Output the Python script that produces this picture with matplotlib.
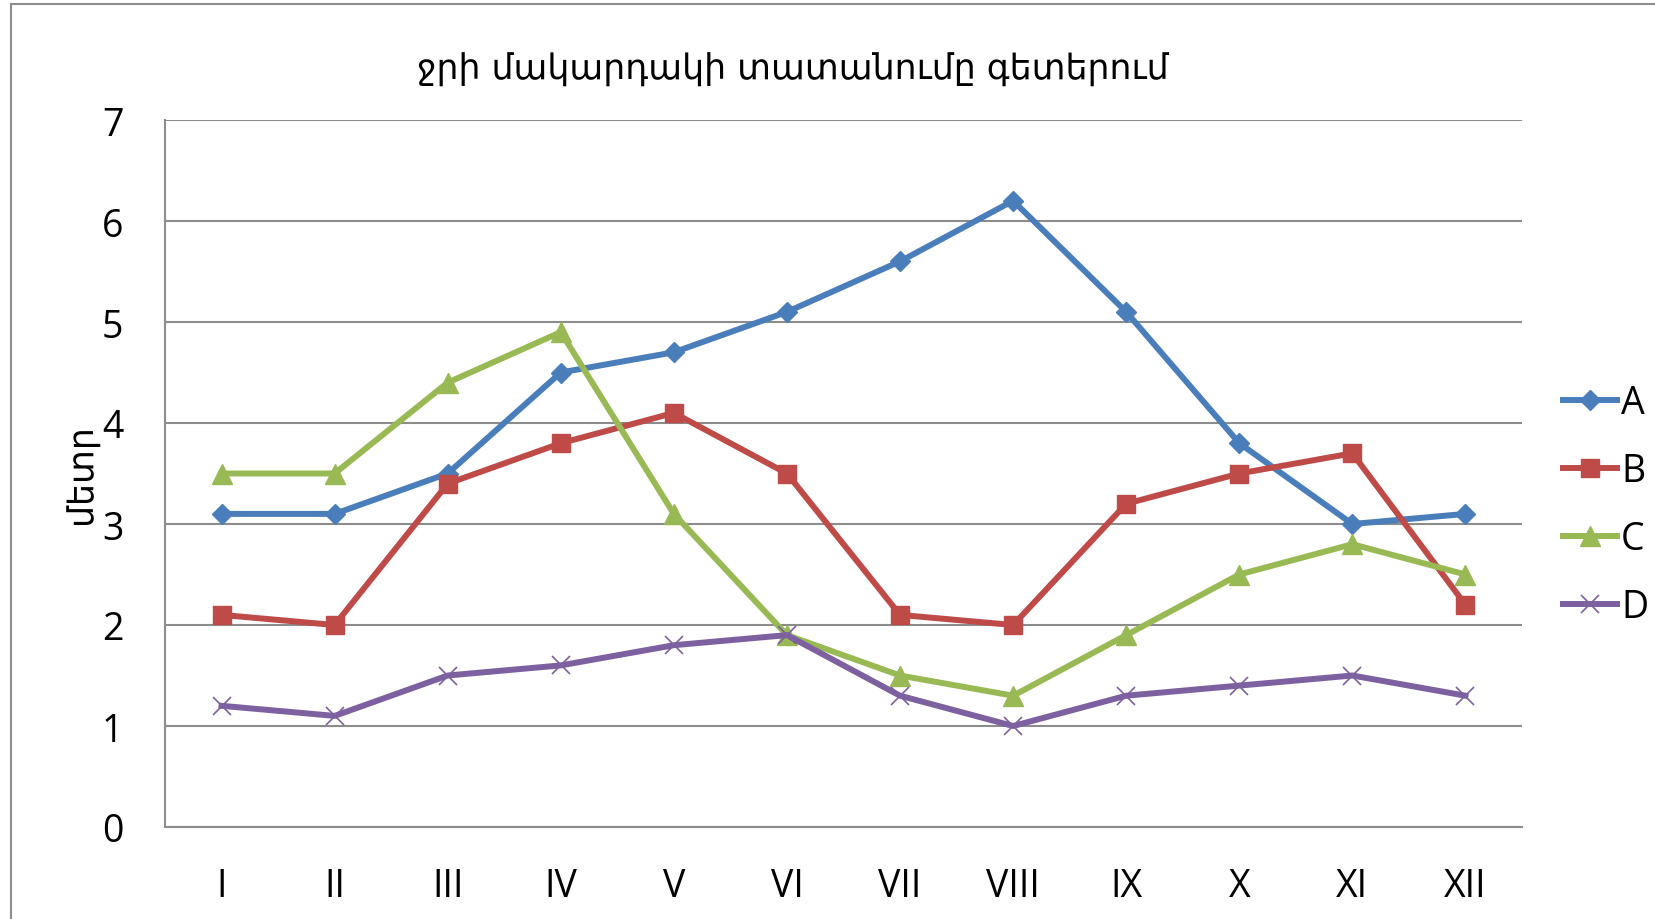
import matplotlib.pyplot as plt
from matplotlib.patches import Rectangle

months = ['I', 'II', 'III', 'IV', 'V', 'VI', 'VII', 'VIII', 'IX', 'X', 'XI', 'XII']
a_vals = [3.1, 3.1, 3.5, 4.5, 4.7, 5.1, 5.6, 6.2, 5.1, 3.8, 3.0, 3.1]
b_vals = [2.1, 2.0, 3.4, 3.8, 4.1, 3.5, 2.1, 2.0, 3.2, 3.5, 3.7, 2.2]
c_vals = [3.5, 3.5, 4.4, 4.9, 3.1, 1.9, 1.5, 1.3, 1.9, 2.5, 2.8, 2.5]
d_vals = [1.2, 1.1, 1.5, 1.6, 1.8, 1.9, 1.3, 1.0, 1.3, 1.4, 1.5, 1.3]

plt.rcParams['font.family'] = ['Open Sans', 'DejaVu Sans']

fig = plt.figure(figsize=(16.56, 9.2), dpi=100)
W, H = 1656, 920
# plot area in pixels: left 165, right 1522, top 121, bottom 828
ax = fig.add_axes([165 / W, 1 - 828 / H, (1522 - 165) / W, (828 - 121) / H])

x = range(len(months))
lw = 4.3
ax.plot(x, a_vals, color='#4A7EBB', lw=lw, marker='D', ms=10, label='A', zorder=3)
ax.plot(x, b_vals, color='#BE4B48', lw=lw, marker='s', ms=13.5, label='B', zorder=3)
ax.plot(x, c_vals, color='#98B954', lw=lw, marker='^', ms=14, label='C', zorder=3)
ax.plot(x, d_vals, color='#7D60A0', lw=lw, marker='x', ms=13.5, mew=1.2, label='D', zorder=3)

ax.set_xlim(-0.5, 11.5)
ax.set_ylim(0, 7)
ax.set_xticks(list(x))
ax.set_xticklabels(months)
ax.set_yticks(range(0, 8))
ax.tick_params(length=0, labelsize=27)
ax.tick_params(axis='x', pad=29)
ax.tick_params(axis='y', pad=30)
ax.grid(axis='y', color='#8c8c8c', lw=1.5)
ax.set_axisbelow(True)
for s in ['top', 'right']:
    ax.spines[s].set_visible(False)
for s in ['left', 'bottom']:
    ax.spines[s].set_color('#8c8c8c')
    ax.spines[s].set_linewidth(1.5)

ax.set_ylabel('մետր', family=['DejaVu Sans'], fontsize=25, labelpad=2)
fig.text(793 / W, 1 - 70 / H, 'ջրի մակարդակի տատանումը գետերում',
         family=['DejaVu Sans'], fontsize=25, ha='center', va='center')

ax.legend(loc='center left', bbox_to_anchor=(1563 / W, 1 - 506 / H),
          bbox_transform=fig.transFigure, frameon=False, fontsize=27,
          handlelength=1.45, handletextpad=0.1, labelspacing=0.8,
          borderaxespad=0, borderpad=0)

# outer chart border (cropped at right and bottom)
fig.patches.append(Rectangle((10.5 / W, -0.1), 1.2, 1 - 5 / H + 0.1,
                             transform=fig.transFigure, fill=False,
                             edgecolor='#8c8c8c', lw=1.5))

plt.savefig('out.png', dpi=100)
